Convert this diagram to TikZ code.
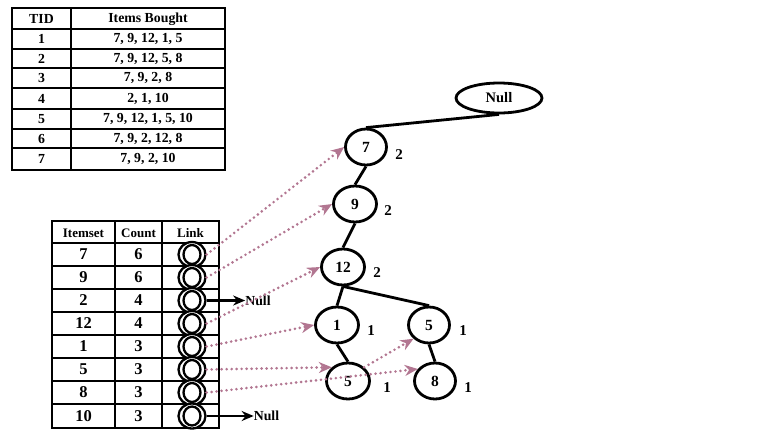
\documentclass[tikz,border=0pt]{standalone}
\usepackage{fontspec}
\setmainfont{Liberation Serif}
\usetikzlibrary{arrows.meta,shapes.geometric}
\definecolor{linkpink}{RGB}{178,118,145}
\begin{document}
\begin{tikzpicture}[x=1pt,y=-1pt,
  grid/.style={line width=2.8pt,black},
  tcell/.style={font=\fontsize{13.8}{15}\selectfont\bfseries,inner sep=0pt},
  hcell/.style={font=\fontsize{13}{14}\selectfont\bfseries,inner sep=0pt},
  ncell/.style={font=\fontsize{16.5}{17}\selectfont\bfseries,inner sep=0pt},
  linkc/.style={draw,ellipse,line width=2.3pt,fill=white,minimum width=27pt,minimum height=25pt,inner sep=0pt},
  tnode/.style={draw,ellipse,line width=2.8pt,minimum width=41pt,minimum height=36pt,inner sep=0pt,font=\fontsize{15.5}{17}\selectfont\bfseries},
  cnt/.style={font=\fontsize{15}{16}\selectfont\bfseries,inner sep=0pt},
  tedge/.style={line width=2.8pt,black},
  nullarrow/.style={line width=2.4pt,-{Stealth[length=12pt,width=10pt]}},
  plink/.style={linkpink,line width=2.9pt,line cap=round,dash pattern=on 0pt off 5pt,-{Stealth[length=13pt,width=11pt]}}
]
\useasboundingbox (0,0) rectangle (765,440);
% ---------- top table ----------
\draw[grid] (12,8) rectangle (225,170);
\draw[grid] (71,8) -- (71,170);
\foreach \yy in {29,49,68,88,109,129,148} \draw[grid] (12,\yy) -- (225,\yy);
\node[tcell] (th1) at (41.5,19) {TID};
\node[tcell] (th2) at (148,19) {Items Bought};
\node[tcell] (t1a) at (41.5,39) {1};   \node[tcell] (t1b) at (148,39) {7, 9, 12, 1, 5};
\node[tcell] (t2a) at (41.5,58.5) {2}; \node[tcell] (t2b) at (148,58.5) {7, 9, 12, 5, 8};
\node[tcell] (t3a) at (41.5,78) {3};   \node[tcell] (t3b) at (148,78) {7, 9, 2, 8};
\node[tcell] (t4a) at (41.5,98.5) {4}; \node[tcell] (t4b) at (148,98.5) {2, 1, 10};
\node[tcell] (t5a) at (41.5,119) {5};  \node[tcell] (t5b) at (148,119) {7, 9, 12, 1, 5, 10};
\node[tcell] (t6a) at (41.5,138.5) {6};\node[tcell] (t6b) at (148,138.5) {7, 9, 2, 12, 8};
\node[tcell] (t7a) at (41.5,159) {7};  \node[tcell] (t7b) at (148,159) {7, 9, 2, 10};
% ---------- header table ----------
\draw[grid] (52,221) rectangle (219,428);
\draw[grid] (115,221) -- (115,428);
\draw[grid] (162,221) -- (162,428);
\foreach \yy in {243,266,289,312,335,358,381,404} \draw[grid] (52,\yy) -- (219,\yy);
\node[hcell] (h1) at (83.5,233) {Itemset};
\node[hcell] (h2) at (138.5,233) {Count};
\node[hcell] (h3) at (190.5,233) {Link};
\foreach \nm/\it/\ct/\yy in {7/7/6/254.5, 9/9/6/277.5, 2/2/4/300.5, 12/12/4/323.5, 1/1/3/346.5, 5/5/3/369.5, 8/8/3/392.5, 10/10/3/416}{
  \node[ncell] (i\nm) at (83.5,\yy) {\it};
  \node[ncell] (k\nm) at (138.5,\yy) {\ct};
}
\foreach \nm/\yy in {7/254.5, 9/277.5, 2/300.5, 12/323.5, 1/346.5, 5/369.5, 8/392.5, 10/416}{
  \node[linkc] (l\nm) at (192,\yy) {};
  \draw[line width=2.3pt] (l\nm.center) ellipse (8.5pt and 9.5pt);
}
\node[tcell] (null2) at (258,300.5) {Null};
\node[tcell] (null10) at (266.5,416) {Null};
\draw[nullarrow] (l2.east) -- (null2.west);
\draw[nullarrow] (l10.east) -- (null10.west);
% ---------- tree ----------
\node[tnode,minimum width=86pt,minimum height=30pt,font=\fontsize{14.5}{16}\selectfont\bfseries] (nnull) at (499,98) {Null};
\node[tnode] (n7) at (366,147) {7};
\node[tnode,minimum width=43pt] (n9) at (355,204) {9};
\node[tnode,minimum width=43pt] (n12) at (343,267) {12};
\node[tnode,minimum width=43pt] (n1) at (337,325) {1};
\node[tnode] (n5r) at (429,325) {5};
\node[tnode,minimum width=43pt] (n5b) at (348,381) {5};
\node[tnode] (n8) at (435,381) {8};
\node[cnt] (c7) at (399,155) {2};
\node[cnt] (c9) at (388,211) {2};
\node[cnt] (c12) at (377,273) {2};
\node[cnt] (c1) at (371,331) {1};
\node[cnt] (c5r) at (463,331) {1};
\node[cnt] (c5b) at (387,388) {1};
\node[cnt] (c8) at (468,388) {1};
\draw[tedge] (nnull.south) -- (n7.north);
\draw[tedge] (n7.south) -- (n9.north);
\draw[tedge] (n9.south) -- (n12.north);
\draw[tedge] (n12.south) -- (n1.north);
\draw[tedge] (n12.south) -- (n5r.north);
\draw[tedge] (n1.south) -- (n5b.north);
\draw[tedge] (n5r.south) -- (n8.north);
% ---------- node links ----------
\draw[plink] (l7.east) -- (n7.west);
\draw[plink] (l9.east) -- (n9.west);
\draw[plink] (l12.east) -- (n12.west);
\draw[plink] (l1.east) -- (n1.west);
\draw[plink] (l5.east) -- (n5b.north west);
\draw[plink] (n5b.north east) -- (n5r.south west);
\draw[plink] (l8.east) -- (n8.145);
\end{tikzpicture}
\end{document}
